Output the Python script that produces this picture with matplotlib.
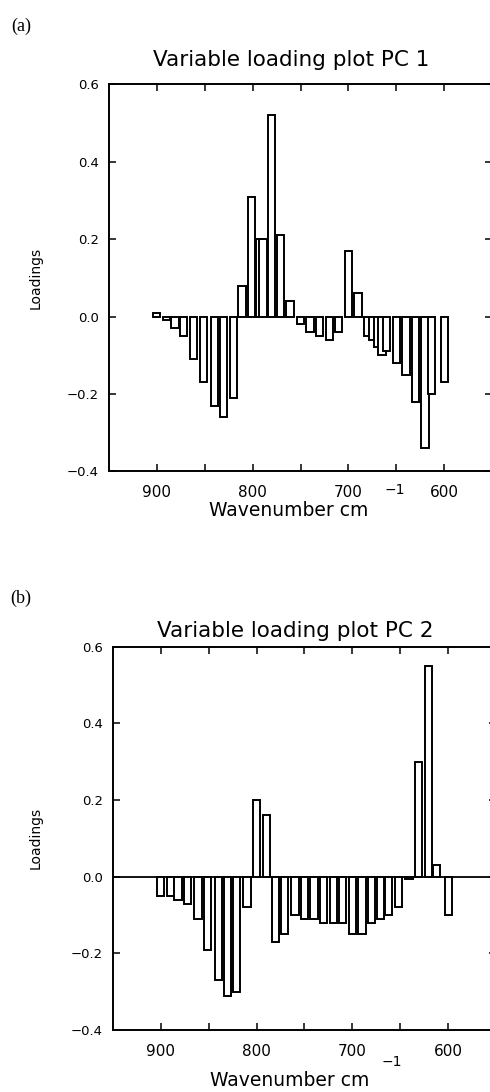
import matplotlib
matplotlib.use('Agg')
import matplotlib.pyplot as plt
from matplotlib.ticker import FixedLocator

# --- DATA ---
# PC 1 loadings (wavenumber cm-1, loading)
PC1_WAVENUMBER = [900, 890, 881, 872, 862, 851, 840, 830, 820,
                  811, 801, 793, 789, 780, 771, 761,
                  750, 740, 730, 720, 710, 700, 690,
                  680, 675, 670, 665, 660, 650, 640, 630, 620, 613, 600]
PC1_LOADING = [0.01, -0.01, -0.03, -0.05, -0.11, -0.17, -0.23, -0.26, -0.21,
               0.08, 0.31, 0.20, 0.20, 0.52, 0.21, 0.04,
               -0.02, -0.04, -0.05, -0.06, -0.04, 0.17, 0.06,
               -0.05, -0.06, -0.08, -0.10, -0.09, -0.12, -0.15, -0.22, -0.34, -0.20, -0.17]

# PC 2 loadings
PC2_WAVENUMBER = [900, 890, 882, 872, 861, 851, 840, 830, 821,
                  810, 800, 790, 780, 771, 760, 750, 740, 730, 720, 710,
                  700, 690, 680, 671, 662, 652, 641, 631, 621, 612, 600]
PC2_LOADING = [-0.05, -0.05, -0.06, -0.07, -0.11, -0.19, -0.27, -0.31, -0.30,
               -0.08, 0.20, 0.16, -0.17, -0.15, -0.10, -0.11, -0.11, -0.12, -0.12, -0.12,
               -0.15, -0.15, -0.12, -0.11, -0.10, -0.08, -0.005, 0.30, 0.55, 0.03, -0.10]

X_MAJOR = [900, 800, 700, 600]
X_MINOR = [850, 750, 650]
Y_TICKS = [-0.4, -0.2, 0.0, 0.2, 0.4, 0.6]
Y_TICK_LABELS = ['\u22120.4', '\u22120.2', '0.0', '0.2', '0.4', '0.6']

W, H = 490, 1092
fig = plt.figure(figsize=(W / 100, H / 100), dpi=100)
plt.rcParams['font.family'] = ['DejaVu Sans']


def px_axes(left, top, right, bottom):
    # pixel box -> figure fraction
    return [left / W, 1 - bottom / H, (right - left) / W, (bottom - top) / H]


def style_axes(ax):
    ax.set_xlim(950, 550)
    ax.set_ylim(-0.4, 0.6)
    ax.xaxis.set_major_locator(FixedLocator(X_MAJOR))
    ax.xaxis.set_minor_locator(FixedLocator(X_MINOR))
    ax.set_yticks(Y_TICKS)
    ax.set_yticklabels(Y_TICK_LABELS)
    ax.tick_params(axis='both', which='both', direction='in', top=True, right=True,
                   length=5, width=1.1)
    ax.tick_params(axis='x', which='major', labelsize=11, pad=10)
    ax.tick_params(axis='y', labelsize=9.5, pad=7)
    for s in ax.spines.values():
        s.set_linewidth(1.4)
    ax.set_ylabel('Loadings', fontsize=10)


def draw_bars(ax, wn, vals):
    for x, v in zip(wn, vals):
        ax.bar(x, v, width=7.6, facecolor='white', edgecolor='black', linewidth=1.4, zorder=3)


# (a) PC 1
ax_a = fig.add_axes(px_axes(108.8, 84.3, 492.2, 471.3))
draw_bars(ax_a, PC1_WAVENUMBER, PC1_LOADING)
style_axes(ax_a)
ax_a.yaxis.set_label_coords((43 - 108.8) / (492.2 - 108.8), 0.5)

# (b) PC 2
ax_b = fig.add_axes(px_axes(112.8, 646.7, 496.2, 1030))
ax_b.axhline(0, color='black', lw=1.3, zorder=2)
draw_bars(ax_b, PC2_WAVENUMBER, PC2_LOADING)
style_axes(ax_b)
ax_b.yaxis.set_label_coords((43 - 112.8) / (496.2 - 112.8), 0.5)


def ftext(x, y, s, **kw):
    fig.text(x / W, 1 - y / H, s, ha='center', va='center', **kw)


ftext(21, 26, '(a)', fontsize=13, family=['Liberation Serif'])
ftext(291, 60, 'Variable loading plot PC 1', fontsize=15.5)
ftext(289, 510, 'Wavenumber cm', fontsize=13.5)
ftext(395, 490, '\u22121', fontsize=10)

ftext(21, 598, '(b)', fontsize=13, family=['Liberation Serif'])
ftext(295, 631, 'Variable loading plot PC 2', fontsize=15.5)
ftext(290, 1081, 'Wavenumber cm', fontsize=13.5)
ftext(392, 1062, '\u22121', fontsize=10)

fig.savefig('out.png', dpi=100)
